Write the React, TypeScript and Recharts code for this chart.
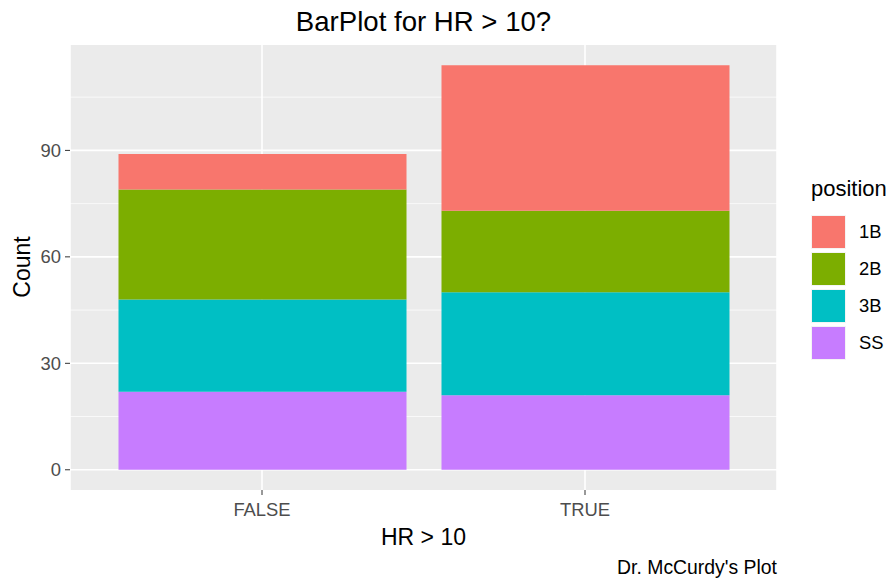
import React from 'react';
import { BarChart, Bar, XAxis, YAxis, CartesianGrid } from 'recharts';

const categories = ['FALSE', 'TRUE'];
const ssCounts = [22, 21];
const b3Counts = [26, 29];
const b2Counts = [31, 23];
const b1Counts = [10, 41];
const yTicks = [0, 30, 60, 90];
const yMinor = [15, 45, 75, 105];
const legendKeys = ['1B', '2B', '3B', 'SS'];

const COLORS: Record<string, string> = { '1B': '#F8766D', '2B': '#7CAE00', '3B': '#00BFC4', SS: '#C77CFF' };
const FONT = '"Liberation Sans", Arial, sans-serif';

const data = categories.map((c, i) => ({
  hr: c,
  SS: ssCounts[i],
  '3B': b3Counts[i],
  '2B': b2Counts[i],
  '1B': b1Counts[i],
}));

function PositionLegend() {
  return (
    <div style={{ position: 'absolute', left: 811, top: 178, width: 84, fontFamily: FONT }}>
      <div style={{ fontSize: 22, lineHeight: 1, color: '#000', height: 35, whiteSpace: 'nowrap' }}>position</div>
      {legendKeys.map((k) => (
        <div key={k} style={{ display: 'flex', alignItems: 'center', height: 37 }}>
          <div style={{ width: 35, height: 34, background: COLORS[k], border: '1px solid #f4f4f4', boxSizing: 'border-box' }} />
          <span style={{ marginLeft: 13, fontSize: 18.4, color: '#000' }}>{k}</span>
        </div>
      ))}
    </div>
  );
}

export default function App() {
  return (
    <div style={{ position: 'relative', width: 895, height: 586, margin: -8, background: '#fff', fontFamily: FONT, overflow: 'hidden' }}>
      <div style={{ position: 'absolute', left: 70, width: 707, top: 8, textAlign: 'center', fontSize: 27.6, lineHeight: 1, color: '#000' }}>
        BarPlot for HR &gt; 10?
      </div>
      <BarChart width={895} height={586} data={data} margin={{ top: 45, right: 118, bottom: 66, left: 0 }}>
        <CartesianGrid fill="#EBEBEB" stroke="#fff" strokeWidth={0.7} horizontalValues={yMinor} vertical={false} />
        <CartesianGrid stroke="#fff" strokeWidth={1.6} horizontalValues={yTicks} />
        <XAxis
          dataKey="hr"
          height={30}
          padding={{ left: 30.5, right: 30.5 }}
          tick={{ fontSize: 18.4, fill: '#4D4D4D', fontFamily: FONT }}
          tickLine={{ stroke: '#333' }}
          tickSize={5}
          tickMargin={8}
          axisLine={false}
        />
        <YAxis
          width={70}
          type="number"
          domain={[-5.7, 119.7]}
          ticks={yTicks}
          allowDataOverflow
          tick={{ fontSize: 18.4, fill: '#4D4D4D', fontFamily: FONT }}
          tickLine={{ stroke: '#333' }}
          tickSize={5}
          tickMargin={4}
          axisLine={false}
        />
        <Bar dataKey="SS" stackId="a" fill={COLORS.SS} barSize={288} isAnimationActive={false} />
        <Bar dataKey="3B" stackId="a" fill={COLORS['3B']} barSize={288} isAnimationActive={false} />
        <Bar dataKey="2B" stackId="a" fill={COLORS['2B']} barSize={288} isAnimationActive={false} />
        <Bar dataKey="1B" stackId="a" fill={COLORS['1B']} barSize={288} isAnimationActive={false} />
      </BarChart>
      <PositionLegend />
      <div style={{ position: 'absolute', left: 70, width: 707, top: 526, textAlign: 'center', fontSize: 23, lineHeight: 1, color: '#000' }}>
        HR &gt; 10
      </div>
      <div style={{ position: 'absolute', right: 118, top: 558, fontSize: 19.4, lineHeight: 1, color: '#000' }}>
        Dr. McCurdy's Plot
      </div>
      <div
        style={{
          position: 'absolute',
          left: 22,
          top: 267,
          fontSize: 23,
          lineHeight: 1,
          color: '#000',
          transform: 'translate(-50%, -50%) rotate(-90deg)',
          whiteSpace: 'nowrap',
        }}
      >
        Count
      </div>
    </div>
  );
}
